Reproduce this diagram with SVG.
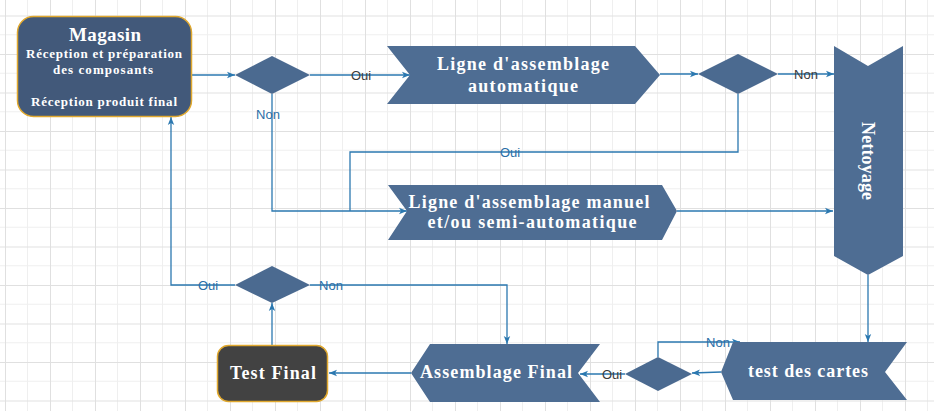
<svg xmlns="http://www.w3.org/2000/svg" width="934" height="411" viewBox="0 0 934 411">
<defs>
<pattern id="grid" x="5" y="15.5" width="45" height="38.5" patternUnits="userSpaceOnUse">
<path d="M22.5,0 V38.5 M0,19.25 H45" stroke="#efefef" stroke-width="1" fill="none"/>
<path d="M0.5,0 V38.5 M0,0.5 H45" stroke="#e0e0e0" stroke-width="1" fill="none"/>
</pattern>
<marker id="arr" viewBox="0 0 10 10" refX="10" refY="5" markerWidth="8" markerHeight="8" markerUnits="userSpaceOnUse" orient="auto">
<path d="M0,1 L10,5 L0,9 L2.5,5 Z" fill="#2b78b0"/>
</marker>
<style>
.conn{fill:none;stroke:#2b78b0;stroke-width:1.3}
.shape{fill:#4e6d93}
.dia{fill:#4b6a90}
.t{font-family:"Liberation Serif","Times New Roman",serif;font-weight:bold;fill:#ffffff;text-anchor:middle}
.lbl{font-family:"Liberation Sans",Arial,sans-serif;font-size:13px;text-anchor:middle}
.blue{fill:#2b6ea6}
.dark{fill:#3a3a3a}
</style>
</defs>
<rect x="0" y="0" width="934" height="411" fill="#ffffff"/>
<rect x="0" y="0" width="934" height="411" fill="url(#grid)"/>

<g id="connectors">
<path class="conn" d="M192,75 H235" marker-end="url(#arr)"/>
<path class="conn" d="M310,75 H410" marker-end="url(#arr)"/>
<path class="conn" d="M660,74 H698" marker-end="url(#arr)"/>
<path class="conn" d="M778,74 H834" marker-end="url(#arr)"/>
<path class="conn" d="M738,94 V152 H350 V211"/>
<path class="conn" d="M272,94 V211 H407" marker-end="url(#arr)"/>
<path class="conn" d="M677,211 H833" marker-end="url(#arr)"/>
<path class="conn" d="M868,275 V342" marker-end="url(#arr)"/>
<path class="conn" d="M721,372 L692,373" marker-end="url(#arr)"/>
<path class="conn" d="M658,357 V342 H740" marker-end="url(#arr)"/>
<path class="conn" d="M625,374 H580" marker-end="url(#arr)"/>
<path class="conn" d="M411,373 H329" marker-end="url(#arr)"/>
<path class="conn" d="M272,345 V303" marker-end="url(#arr)"/>
<path class="conn" d="M310,285 H507 V344" marker-end="url(#arr)"/>
<path class="conn" d="M235,285 H171 V117" marker-end="url(#arr)"/>
<text class="lbl dark" x="361" y="80">Oui</text>
<text class="lbl dark" x="806" y="79">Non</text>
<text class="lbl blue" x="268" y="119">Non</text>
<text class="lbl blue" x="510" y="157">Oui</text>
<text class="lbl blue" x="208" y="290">Oui</text>
<text class="lbl blue" x="331" y="290">Non</text>
<text class="lbl blue" x="718" y="347">Non</text>
<text class="lbl dark" x="612" y="379">Oui</text>
</g>

<g id="magasin">
<rect x="17.5" y="16.5" width="174" height="100" rx="16" fill="#42597a" stroke="#e0a82e" stroke-width="1.5"/>
<text class="t" x="105" y="41" font-size="19" textLength="72" lengthAdjust="spacing">Magasin</text>
<text class="t" x="104" y="57.5" font-size="13" textLength="156" lengthAdjust="spacing">Réception et préparation</text>
<text class="t" x="103" y="74" font-size="13" textLength="100" lengthAdjust="spacing">des composants</text>
<text class="t" x="104" y="106" font-size="13" textLength="146" lengthAdjust="spacing">Réception produit final</text>
</g>

<g id="decision1">
<polygon class="dia" points="235,75 272,56 310,75 272,94"/>
</g>

<g id="ligne-auto">
<path class="shape" d="M387,46 L635,46 L660,75 L635,104 L387,104 L410,75 Z"/>
<text class="t" x="523" y="70" font-size="18" textLength="172" lengthAdjust="spacing">Ligne d'assemblage</text>
<text class="t" x="523" y="92" font-size="18" textLength="110" lengthAdjust="spacing">automatique</text>
</g>

<g id="decision2">
<polygon class="dia" points="698,74 738,54 778,74 738,94"/>
</g>

<g id="nettoyage">
<path class="shape" d="M834,46 L868,66 L903,46 L903,256 L868,275 L834,256 Z"/>
<text class="t" transform="translate(868,161) rotate(90)" x="0" y="6" font-size="18" textLength="78" lengthAdjust="spacing">Nettoyage</text>
</g>

<g id="ligne-manuel">
<path class="shape" d="M388,185 L662,185 L677,211 L662,240 L388,240 L407,211 Z"/>
<text class="t" x="529" y="208" font-size="18" textLength="241" lengthAdjust="spacing">Ligne d'assemblage manuel</text>
<text class="t" x="532" y="228" font-size="18" textLength="209" lengthAdjust="spacing">et/ou semi-automatique</text>
</g>

<g id="test-cartes">
<path class="shape" d="M733,342 L907,342 L885,372 L907,400 L733,400 L721,372 Z"/>
<text class="t" x="808" y="377" font-size="18" textLength="120" lengthAdjust="spacing">test des cartes</text>
</g>

<g id="decision3">
<polygon class="dia" points="625,374 658,357 692,374 658,391"/>
</g>

<g id="assemblage-final">
<path class="shape" d="M430,344 L600,344 L578,373 L600,402 L430,402 L411,373 Z"/>
<text class="t" x="496" y="378" font-size="18" textLength="152" lengthAdjust="spacing">Assemblage Final</text>
</g>

<g id="decision4">
<polygon class="dia" points="235,285 272,266 310,285 272,303"/>
</g>

<g id="test-final">
<rect x="217.5" y="345.5" width="110" height="56" rx="11" fill="#424242" stroke="#e0a82e" stroke-width="1.5"/>
<text class="t" x="273" y="379" font-size="18" textLength="86" lengthAdjust="spacing">Test Final</text>
</g>
</svg>
